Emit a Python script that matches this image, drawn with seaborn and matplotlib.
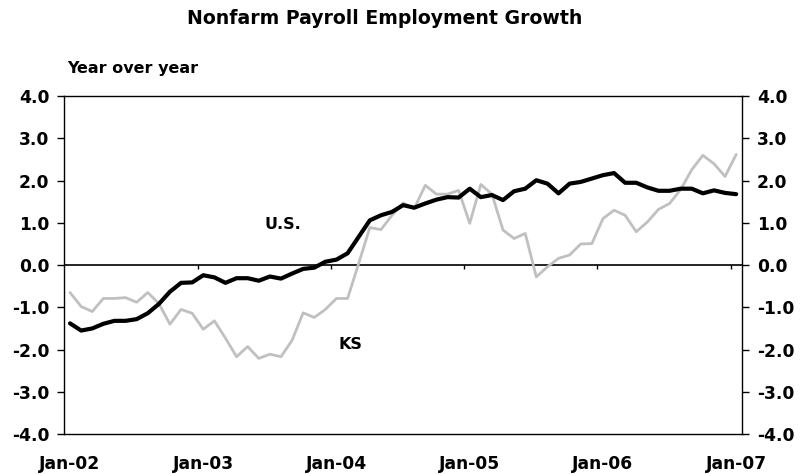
import numpy as np
import pandas as pd
import matplotlib
matplotlib.use("Agg")
import matplotlib.pyplot as plt
import seaborn as sns

# ── Data (year-over-year %, monthly Jan-02 .. Jan-07) ─────────────────────────
us = [-1.38, -1.55, -1.50, -1.39, -1.32, -1.32, -1.28, -1.14, -0.92, -0.63,
      -0.42, -0.41, -0.24, -0.29, -0.42, -0.31, -0.31, -0.37, -0.27, -0.32,
      -0.20, -0.09, -0.06, 0.08, 0.13, 0.28, 0.67, 1.06, 1.18, 1.26,
      1.42, 1.36, 1.46, 1.55, 1.61, 1.60, 1.81, 1.61, 1.66, 1.54,
      1.75, 1.81, 2.01, 1.93, 1.70, 1.93, 1.97, 2.05, 2.13, 2.18,
      1.95, 1.95, 1.84, 1.76, 1.76, 1.81, 1.81, 1.70, 1.77, 1.71, 1.68]
ks = [-0.65, -0.98, -1.10, -0.79, -0.79, -0.77, -0.88, -0.65, -0.91, -1.40,
      -1.05, -1.14, -1.52, -1.32, -1.73, -2.17, -1.93, -2.21, -2.11, -2.17,
      -1.78, -1.13, -1.24, -1.05, -0.79, -0.79, 0.04, 0.89, 0.84, 1.18,
      1.47, 1.34, 1.89, 1.68, 1.68, 1.77, 0.99, 1.91, 1.68, 0.83,
      0.63, 0.75, -0.28, -0.04, 0.16, 0.24, 0.50, 0.51, 1.10, 1.30,
      1.18, 0.79, 1.02, 1.32, 1.46, 1.79, 2.26, 2.60, 2.40, 2.10, 2.62]
months = pd.date_range("2002-01-01", "2007-01-01", freq="MS")
year_labels = ["Jan-02", "Jan-03", "Jan-04", "Jan-05", "Jan-06", "Jan-07"]
y_ticks = [-4.0, -3.0, -2.0, -1.0, 0.0, 1.0, 2.0, 3.0, 4.0]

df = pd.DataFrame({"idx": np.arange(len(months)), "U.S.": us, "KS": ks})
long = df.melt(id_vars="idx", var_name="series", value_name="growth")

sns.set_style("white")
plt.rcParams["font.family"] = ["DejaVu Sans"]
plt.rcParams["axes.unicode_minus"] = False
plt.rcParams["text.color"] = "black"
plt.rcParams["xtick.color"] = "black"
plt.rcParams["ytick.color"] = "black"

fig = plt.figure(figsize=(8.01, 4.74), dpi=100)
ax = fig.add_axes([0.0805, 0.0844, 0.8455, 0.7126])

sns.lineplot(data=long, x="idx", y="growth", hue="series", size="series",
             palette={"U.S.": "black", "KS": "#c0c0c0"},
             sizes={"U.S.": 3.0, "KS": 2.0},
             hue_order=["KS", "U.S."], legend=False, ax=ax)

n = len(months)
ax.set_xlim(-0.5, n - 0.5)
ax.set_ylim(-4, 4)
ax.axhline(0, color="black", linewidth=1.2, zorder=1)

# tick marks on the zero line, between categories
between = np.arange(11.5, n - 0.5, 12)
ax.vlines(between, -0.1, 0, color="black", linewidth=1.0)

ax.set_xticks(np.arange(0, n, 12))
ax.set_xticklabels(year_labels)
ax.tick_params(axis="x", length=0, pad=15, labelsize=12.3)

ax.set_yticks(y_ticks)
ax.set_yticklabels([f"{v:.1f}" for v in y_ticks])
ax.tick_params(axis="y", direction="out", length=5, width=1,
               left=True, right=True, labelleft=True, labelright=True,
               labelsize=12.3, pad=6)
for lab in ax.get_xticklabels() + ax.get_yticklabels():
    lab.set_fontweight("bold")

for s in ax.spines.values():
    s.set_color("black")
    s.set_linewidth(1.0)
ax.set_xlabel("")
ax.set_ylabel("")

ax.text(19.2, 0.95, "U.S.", ha="center", va="center",
        fontsize=11.5, fontweight="bold")
ax.text(25.3, -1.87, "KS", ha="center", va="center",
        fontsize=11.5, fontweight="bold")

fig.text(0.48, 0.96, "Nonfarm Payroll Employment Growth", ha="center",
         va="center", fontsize=13.6, fontweight="bold")
fig.text(0.084, 0.855, "Year over year", ha="left", va="center",
         fontsize=11.5, fontweight="bold")

fig.savefig("out.png", dpi=100, facecolor="white")
